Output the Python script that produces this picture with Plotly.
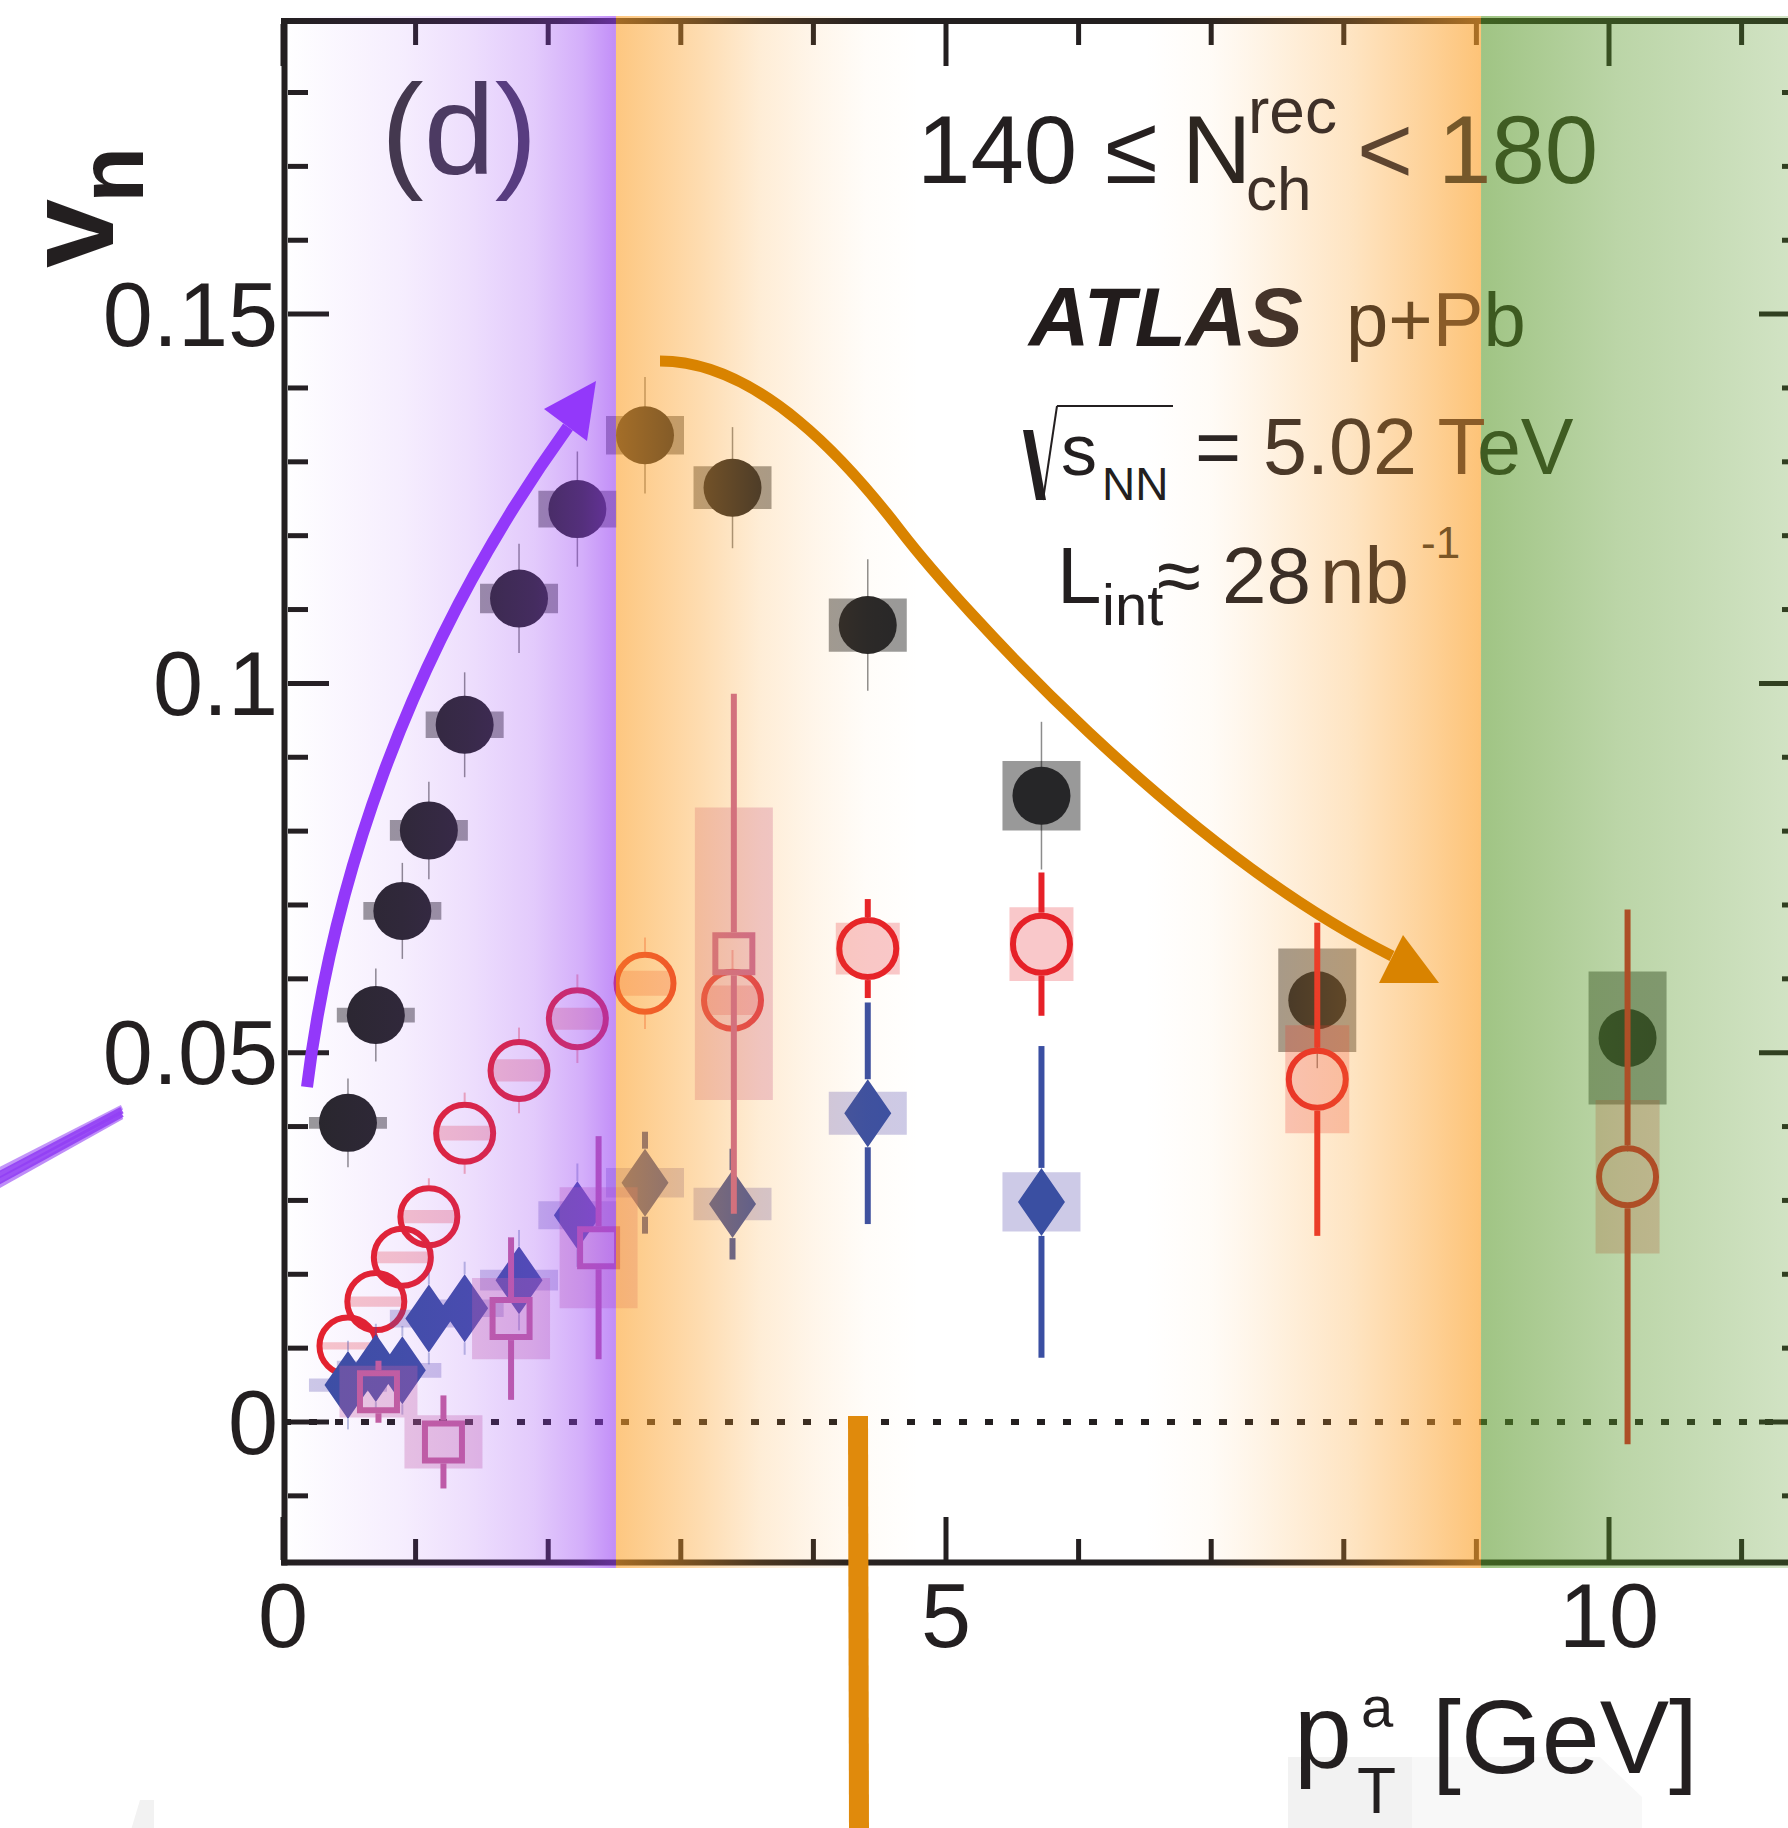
import plotly.graph_objects as go

# ---------------- data ----------------
pt = [0.49, 0.70, 0.90, 1.10, 1.37, 1.78, 2.22, 2.73, 3.39, 4.41, 5.72, 7.80, 10.14]

v2 = [0.0405, 0.0551, 0.0692, 0.0801, 0.0944, 0.1115, 0.1236, 0.1336, 0.1265, 0.1079, 0.0848, 0.0571, 0.0520]
v2_stat = [0.0060, 0.0063, 0.0065, 0.0066, 0.0071, 0.0074, 0.0078, 0.0079, 0.0082, 0.0089, 0.0100, 0.0092, 0.0154]
v2_sys = [0.0008, 0.0010, 0.0012, 0.0014, 0.0018, 0.0020, 0.0025, 0.0026, 0.0029, 0.0036, 0.0047, 0.0070, 0.0090]

v3 = [0.0103, 0.0163, 0.0223, 0.0278, 0.0391, 0.0476, 0.0546, 0.0594, 0.0571, 0.0641, 0.0647, 0.0464, 0.0332]
v3_stat = [0.0040, 0.0045, 0.0050, 0.0052, 0.0055, 0.0058, 0.0060, 0.0062, 0.0068, 0.0067, 0.0097, 0.0212, 0.0362]
v3_sys = [0.0005, 0.0007, 0.0008, 0.0009, 0.0010, 0.0015, 0.0015, 0.0017, 0.0020, 0.0035, 0.0050, 0.0073, 0.0104]

pt_v4 = [0.49, 0.70, 0.90, 1.10, 1.37, 1.78, 2.22, 2.73, 3.39, 4.41, 5.72]
v4 = [0.0050, 0.0073, 0.0070, 0.0140, 0.0154, 0.0192, 0.0280, 0.0324, 0.0295, 0.0418, 0.0298]
v4_stat = [0.0060, 0.0060, 0.0060, 0.0062, 0.0063, 0.0068, 0.0070, 0.0069, 0.0075, 0.0150, 0.0211]
v4_sys = [0.0009, 0.0010, 0.0010, 0.0012, 0.0012, 0.0014, 0.0019, 0.0020, 0.0022, 0.0029, 0.0040]

pt_v5 = [0.72, 1.21, 1.72, 2.38, 3.40]
v5 = [0.0041, -0.0027, 0.0140, 0.0236, 0.0634]
v5_stat = [0.0042, 0.0063, 0.0110, 0.0151, 0.0352]
v5_sys = [0.0035, 0.0036, 0.0055, 0.0082, 0.0198]

x_tick_vals = [0, 5, 10]
x_tick_text = ["0", "5", "10"]
y_tick_vals = [0, 0.05, 0.1, 0.15]
y_tick_text = ["0", "0.05", "0.1", "0.15"]

# ---------------- geometry / style ----------------
FIG_W, FIG_H = 1788, 1828
X0_PX, PX_PER_X = 283.0, 132.6
Y0_PX, PX_PER_Y = 1422.0, 7386.0
PL, PR, PT, PB = 279, 1788, 16, 1568
FONT = "Liberation Sans"
INK = "#231f20"

XLO, XHI = (PL - X0_PX) / PX_PER_X, (PR - X0_PX) / PX_PER_X
YLO, YHI = (Y0_PX - PB) / PX_PER_Y, (Y0_PX - PT) / PX_PER_Y


def dx(X):
    return (X - X0_PX) / PX_PER_X


def dy(Y):
    return (Y0_PX - Y) / PX_PER_Y


def pp(X, Y):
    return (X - PL) / (PR - PL), (PB - Y) / (PB - PT)


fig = go.Figure()


def add_boxes(x, y, sys, halfw_px, color):
    xs, ys = [], []
    for xi, yi, si in zip(x, y, sys):
        hw = halfw_px(xi) / PX_PER_X
        xs += [xi - hw, xi + hw, xi + hw, xi - hw, xi - hw, None]
        ys += [yi - si, yi - si, yi + si, yi + si, yi - si, None]
    fig.add_trace(go.Scatter(x=xs, y=ys, mode="lines", line=dict(width=0), fill="toself",
                             fillcolor=color, hoverinfo="skip", showlegend=False))


def add_errs(x, y, err, gap_px, width, color, select):
    gap = gap_px / PX_PER_Y
    xs, ys = [], []
    for xi, yi, ei in zip(x, y, err):
        if not select(xi) or ei <= gap:
            continue
        xs += [xi, xi, None, xi, xi, None]
        ys += [yi + gap, yi + ei, None, yi - gap, yi - ei, None]
    if xs:
        fig.add_trace(go.Scatter(x=xs, y=ys, mode="lines", line=dict(width=width, color=color),
                                 hoverinfo="skip", showlegend=False))


# v2 : black filled circles
add_boxes(pt, v2, v2_sys, lambda x: 39, "rgba(0,0,0,0.40)")
add_errs(pt, v2, v2_stat, 0, 1.5, "rgba(0,0,0,0.45)", lambda x: True)
fig.add_trace(go.Scatter(x=pt, y=v2, mode="markers", name="v2",
                         marker=dict(symbol="circle", size=58, color="#262628", line=dict(width=0))))

# v3 : red open circles
add_boxes(pt, v3, v3_sys, lambda x: 26 if x < 4 else 32, "rgba(232,35,42,0.25)")
add_errs(pt, v3, v3_stat, 31.5, 2, "rgba(230,33,40,0.35)", lambda x: x < 4)
add_errs(pt, v3, v3_stat, 31.5, 6, "#e62128", lambda x: x > 4)
fig.add_trace(go.Scatter(x=pt, y=v3, mode="markers", name="v3",
                         marker=dict(symbol="circle-open", size=57, color="#e62128",
                                     line=dict(width=6, color="#e62128"))))

# v4 : blue diamonds
add_boxes(pt_v4, v4, v4_sys, lambda x: 39, "rgba(90,80,175,0.30)")
add_errs(pt_v4, v4, v4_stat, 34, 2, "rgba(58,79,162,0.35)", lambda x: x < 2.5)
add_errs(pt_v4, v4, v4_stat, 34, 6, "#3a4fa2", lambda x: x > 2.5)
dhw, dhh = 23.5 / PX_PER_X, 34.0 / PX_PER_Y
dxs, dys = [], []
for xi, yi in zip(pt_v4, v4):
    dxs += [xi, xi + dhw, xi, xi - dhw, xi, None]
    dys += [yi + dhh, yi, yi - dhh, yi, yi + dhh, None]
fig.add_trace(go.Scatter(x=dxs, y=dys, mode="lines", line=dict(width=0), fill="toself",
                         fillcolor="#3a4fa2", name="v4", hoverinfo="skip", showlegend=False))

# v5 : pink open squares
add_boxes(pt_v5, v5, v5_sys, lambda x: 39, "rgba(200,100,165,0.33)")
add_errs(pt_v5, v5, v5_stat, 21.5, 6, "#c4609c", lambda x: True)
fig.add_trace(go.Scatter(x=pt_v5, y=v5, mode="markers", name="v5",
                         marker=dict(symbol="square-open", size=37, color="#c4609c",
                                     line=dict(width=6, color="#c4609c"))))


# ---------------- colour bands (overlaid) ----------------
def band(x0, x1, rgb, stops):
    span = x1 - x0
    cs = [[min(max((xs - x0) / span, 0.0), 1.0), "rgba(%d,%d,%d,%.3f)" % (rgb[0], rgb[1], rgb[2], a)]
          for xs, a in stops]
    cs[0][0], cs[-1][0] = 0.0, 1.0
    fig.add_trace(go.Scatter(x=[x0, x1, x1, x0, x0], y=[YLO - 0.01, YLO - 0.01, YHI + 0.01, YHI + 0.01, YLO - 0.01],
                             mode="none", fill="toself",
                             fillgradient=dict(type="horizontal", colorscale=cs),
                             hoverinfo="skip", showlegend=False))


XB1, XB2 = 2.511, 9.035
band(XLO, XB1, (150, 60, 243),
     [(XLO, 0.0), (0.0, 0.0), (0.38, 0.04), (0.9, 0.09), (1.39, 0.165), (1.89, 0.27), (2.26, 0.415), (XB1, 0.58)])
band(XB1, XB2, (252, 160, 40),
     [(XB1, 0.60), (2.54, 0.58), (3.14, 0.37), (3.6, 0.19), (4.0, 0.10), (4.4, 0.03), (4.8, 0.0),
      (6.5, 0.0), (7.0, 0.04), (7.29, 0.10), (8.05, 0.28), (8.55, 0.45), (XB2, 0.63)])
band(XB2, XHI, (85, 150, 35), [(XB2, 0.56), (10.06, 0.40), (XHI, 0.27)])

# ---------------- frame, ticks, zero line (drawn under the bands) ----------------
shapes = []


def seg(x0, y0, x1, y1, w, color=INK, dash=None, layer="below"):
    d = dict(type="line", xref="x", yref="y", x0=x0, y0=y0, x1=x1, y1=y1, layer=layer,
             line=dict(color=color, width=w))
    if dash:
        d["line"]["dash"] = dash
    shapes.append(d)


seg(dx(281), dy(21), dx(1800), dy(21), 6)
seg(dx(281), dy(1562.5), dx(1800), dy(1562.5), 6)
seg(dx(284.5), dy(18), dx(284.5), dy(1565.5), 6)
seg(0, 0, dx(1800), 0, 6, dash="8px,18px")
for k in range(0, 12):
    major = k % 5 == 0
    seg(k, dy(1560), k, dy(1517 if major else 1539), 5)
    seg(k, dy(24), k, dy(66 if major else 45), 5)
for j in range(-1, 19):
    v = j * 0.01
    major = j % 5 == 0
    seg(dx(288), v, dx(329 if major else 308), v, 5)
    seg(dx(1803), v, dx(1759 if major else 1782), v, 5)


# ---------------- hand-drawn arrows (on top of the bands) ----------------
def P(X, Y):
    return "%.6f,%.6f" % (dx(X), dy(Y))


def bez_path(start, segs):
    s = "M" + P(*start)
    for c1, c2, end in segs:
        s += " C" + P(*c1) + " " + P(*c2) + " " + P(*end)
    return s


def tri_path(a, b, c):
    return "M" + P(*a) + " L" + P(*b) + " L" + P(*c) + " Z"


shapes.append(dict(type="path", xref="x", yref="y", layer="above", line=dict(color="#9338fa", width=12),
                   path=bez_path((307, 1087), [((330, 900), (400, 660), (568, 427))])))
shapes.append(dict(type="path", xref="x", yref="y", layer="above", line=dict(width=0), fillcolor="#9338fa",
                   path=tri_path((596, 381), (544, 409), (587, 441))))
shapes.append(dict(type="path", xref="x", yref="y", layer="above", line=dict(color="#d98300", width=11),
                   path=bez_path((660, 361), [((760, 361), (850, 465), (900, 530)),
                                              ((960, 608), (1180, 850), (1392, 956))])))
shapes.append(dict(type="path", xref="x", yref="y", layer="above", line=dict(width=0), fillcolor="#d98300",
                   path=tri_path((1403, 935), (1439, 983), (1379, 983))))


# faint grey artefacts near the bottom
def ppath(pts):
    s = ""
    for i, (X, Y) in enumerate(pts):
        xp, yp = pp(X, Y)
        s += ("M" if i == 0 else "L") + "%.5f,%.5f " % (xp, yp)
    return s + "Z"


shapes.append(dict(type="path", xref="paper", yref="paper", layer="below", line=dict(width=0),
                   fillcolor="#f8f8f8",
                   path=ppath([(1288, 1830), (1288, 1757), (1600, 1757), (1642, 1797), (1642, 1830)])))
shapes.append(dict(type="path", xref="paper", yref="paper", layer="below", line=dict(width=0),
                   fillcolor="#f2f2f2",
                   path=ppath([(1288, 1830), (1288, 1757), (1412, 1757), (1412, 1830)])))
shapes.append(dict(type="path", xref="paper", yref="paper", layer="below", line=dict(width=0),
                   fillcolor="#f2f2f2", path=ppath([(131, 1830), (140, 1800), (154, 1800), (154, 1830)])))

# hand-drawn strokes on top
xa, ya = pp(858, 1416)
xb, yb = pp(859, 1830)
shapes.append(dict(type="line", xref="paper", yref="paper", x0=xa, y0=ya, x1=xb, y1=yb, layer="above",
                   line=dict(color="#e08a0c", width=20)))
for (o, w, op) in [(-8, 5, 0.55), (-3, 7, 0.9), (3, 7, 0.9), (8, 5, 0.6)]:
    xa, ya = pp(-5, 1180 + o)
    xb, yb = pp(122, 1112 + o * 0.6)
    shapes.append(dict(type="line", xref="paper", yref="paper", x0=xa, y0=ya, x1=xb, y1=yb, layer="above",
                       opacity=op, line=dict(color="#9340f5", width=w)))

# ---------------- text ----------------
annotations = []


def ann(text, X, baseline, size, color=INK, angle=0, xanchor="left", Yc=None):
    if Yc is None:
        Yc = baseline - 0.3465 * size
    xp, yp = pp(X, Yc)
    annotations.append(dict(text=text, x=xp, y=yp, xref="paper", yref="paper", xanchor=xanchor,
                            yanchor="middle", showarrow=False, textangle=angle, borderpad=0,
                            font=dict(family=FONT, size=size, color=color)))


def sp(t, c):
    return "<span style='color:%s'>%s</span>" % (c, t)


ann(sp("(", "#44384f") + sp("d", "#4c3a62") + sp(")", "#583c80"), 380, 174, 128)
ann("140", 916, 183, 96, "#231f20")
ann("≤", 1104, 183, 96, "#262020")
ann("N", 1181, 183, 96, "#2d2620")
ann("rec", 1247, 133, 64, "#3e3028")
ann("ch", 1245, 210, 62, "#3e3028")
ann("<", 1356, 183, 96, "#5e4530")
ann(sp("1", "#75582a") + sp("80", "#3f5c22"), 1437, 183, 96)
ann("<b><i>" + sp("ATL", "#221c1c") + sp("A", "#2e2420") + sp("S", "#45342a") + "</i></b>", 1026, 346, 84)
ann(sp("p", "#5c4022") + sp("+", "#6f4c23") + sp("P", "#8a5c28") + sp("b", "#3d5a20"), 1345, 346, 76)
ann("s", 1060, 475, 72, "#231f20")
ann("NN", 1101, 500, 46, "#231f20")
ann(sp("=", "#2c2624") + " " + sp("5", "#4a3828") + sp(".", "#523c28") + sp("0", "#5a4228")
    + sp("2", "#6a4a26") + " " + sp("T", "#8a5c28") + sp("eV", "#3f5c22"), 1194, 474, 79)
ann("L", 1056, 603, 80, "#231f20")
ann("int", 1101, 625, 58, "#231f20")
ann("≈", 1156, 603, 80, "#2a2422")
ann("28", 1221, 603, 80, "#3a2e26")
ann("nb", 1319, 603, 80, "#5e4226")
ann("-1", 1420, 558, 44, "#7a5626")
# x title
ann("p", 1293, 1767, 104)
ann("a", 1360, 1727, 58)
ann("T", 1356, 1813, 64)
ann("[GeV]", 1431, 1773, 104)
# y title (rotated)
ann("<b>v</b>", 70, 0, 124, angle=-90, xanchor="center", Yc=234)
ann("<b>n</b>", 111, 0, 92, angle=-90, xanchor="center", Yc=175)

# sqrt sign drawn as strokes
rad = [(1023, 430), (1033, 430), (1046, 500), (1036, 500)]
shapes.append(dict(type="path", xref="paper", yref="paper", layer="above", line=dict(width=0),
                   fillcolor="#231f20", path=ppath(rad)))
for (Xa, Ya, Xb, Yb) in [(1043, 500, 1057, 406), (1057, 406, 1173, 406)]:
    xa, ya = pp(Xa, Ya)
    xb, yb = pp(Xb, Yb)
    shapes.append(dict(type="line", xref="paper", yref="paper", x0=xa, y0=ya, x1=xb, y1=yb, layer="above",
                       line=dict(color="#231f20", width=2)))

fig.update_layout(
    width=FIG_W, height=FIG_H, autosize=False,
    margin=dict(l=PL, r=FIG_W - PR, t=PT, b=FIG_H - PB, pad=0),
    paper_bgcolor="white", plot_bgcolor="rgba(0,0,0,0)", showlegend=False,
    xaxis=dict(range=[XLO, XHI], showgrid=False, zeroline=False, showline=False, ticks="",
               tickmode="array", tickvals=x_tick_vals, ticktext=x_tick_text,
               tickfont=dict(family=FONT, size=90, color=INK), ticklabelstandoff=-12),
    yaxis=dict(range=[YLO, YHI], showgrid=False, zeroline=False, showline=False, ticks="",
               tickmode="array", tickvals=y_tick_vals, ticktext=y_tick_text,
               tickfont=dict(family=FONT, size=90, color=INK), ticklabelstandoff=0),
    shapes=shapes, annotations=annotations,
)

fig.write_html("out.html")
